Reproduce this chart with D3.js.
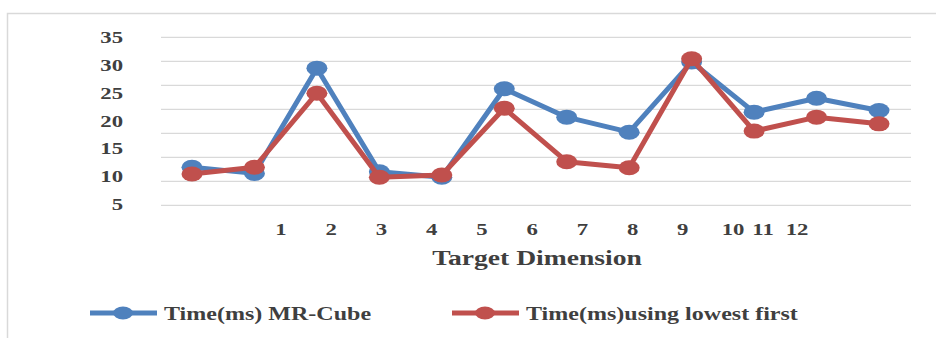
<!DOCTYPE html>
<html><head><meta charset="utf-8">
<script src="https://cdn.jsdelivr.net/npm/d3@7"></script>
<style>body{margin:0;background:#fff;}svg{display:block;}</style>
</head><body>
<svg id="c" width="936" height="338"></svg>
<script>
const categories = [1,2,3,4,5,6,7,8,9,10,11,12];
const xTickLabels = ["1","2","3","4","5","6","7","8","9","10","11","12"];
const yTickLabels = [5,10,15,20,25,30,35];
const gridValues = [0,5,10,15,20,25,30,35];
const mrCube = [11.6,10.5,29.4,10.8,9.8,25.7,20.6,17.9,30.5,21.5,24.0,21.8];
const lowestFirst = [10.4,11.6,24.9,9.8,10.2,22.2,12.6,11.5,31.1,18.1,20.6,19.4];
const seriesNames = ["Time(ms) MR-Cube","Time(ms)using lowest first"];
const colors = ["#4f81bd","#c0504d"];

const svg = d3.select("#c");
const textColor = "#3f3f3f";
const font = "'Liberation Serif','Times New Roman',serif";
const stretch = 1.3;

// frame
svg.append("path").attr("d","M7.5,338 V13.5 H936").attr("fill","none").attr("stroke","#d9d9d9").attr("stroke-width",1.5);

const x = d3.scaleLinear().domain([1,12]).range([192,879]);
const y = d3.scaleLinear().domain([5,35]).range([204,37]);
const yGrid = d3.scaleLinear().domain([0,35]).range([205.3,37.3]);
const xLab = d3.scaleLinear().domain([1,10,11,12]).range([281,733,763,797]);

// gridlines
svg.append("g").selectAll("line").data(gridValues).join("line")
  .attr("x1",161).attr("x2",911)
  .attr("y1",d=>yGrid(d)).attr("y2",d=>yGrid(d))
  .attr("stroke","#d9d9d9").attr("stroke-width",1.3);

function stretchedText(g, tx, ty, txt, size, anchor, sx){
  return g.append("text")
    .attr("transform",`translate(${tx},${ty}) scale(${sx||stretch},1)`)
    .attr("text-anchor",anchor)
    .attr("font-family",font).attr("font-weight","bold")
    .attr("font-size",size).attr("fill",textColor).text(txt);
}

// y tick labels
const gy = svg.append("g");
yTickLabels.forEach(v=>stretchedText(gy,123,y(v)+6,String(v),17.5,"end"));

// x tick labels
const gx = svg.append("g");
xTickLabels.forEach((t,i)=>stretchedText(gx,xLab(categories[i]),235,t,17.5,"middle"));

// axis title
stretchedText(svg,537,265,"Target Dimension",20,"middle",1.38);

// lines
const series = [mrCube, lowestFirst];
const line = d3.line().x((d,i)=>x(categories[i])).y(d=>y(d));
series.forEach((s,k)=>{
  const g = svg.append("g");
  g.append("path").datum(s).attr("d",line).attr("fill","none")
    .attr("stroke",colors[k]).attr("stroke-width",5).attr("stroke-linejoin","round");
  g.selectAll("ellipse").data(s).join("ellipse")
    .attr("cx",(d,i)=>x(categories[i])).attr("cy",d=>y(d))
    .attr("rx",10.5).attr("ry",7.5).attr("fill",colors[k]);
});

// legend
const legX = [90,452];
seriesNames.forEach((n,k)=>{
  const g = svg.append("g");
  g.append("line").attr("x1",legX[k]).attr("x2",legX[k]+67).attr("y1",313).attr("y2",313)
    .attr("stroke",colors[k]).attr("stroke-width",5);
  g.append("ellipse").attr("cx",legX[k]+33).attr("cy",313).attr("rx",10).attr("ry",6.5).attr("fill",colors[k]);
  stretchedText(g,legX[k]+74,320,n,18.5,"start");
});
</script>
</body></html>
